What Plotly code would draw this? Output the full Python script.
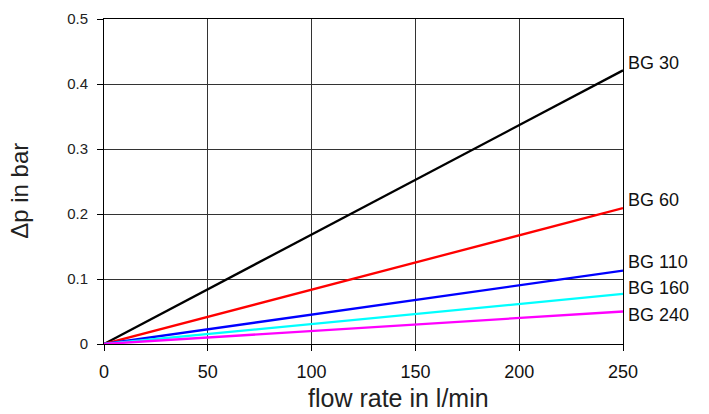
import plotly.graph_objects as go

# Pressure drop vs flow rate for the BG filter sizes
flow = [0, 250]
series_names = ["BG 30", "BG 60", "BG 110", "BG 160", "BG 240"]
dp_end = [0.421, 0.209, 0.113, 0.077, 0.050]
colors = ["#000000", "#ff0000", "#0000ff", "#00ffff", "#ff00ff"]
label_y = [0.432, 0.221, 0.126, 0.086, 0.045]

x_ticks = [0, 50, 100, 150, 200, 250]
y_ticks = [0, 0.1, 0.2, 0.3, 0.4, 0.5]
y_ticklabels = ["0", "0.1", "0.2", "0.3", "0.4", "0.5"]

FONT = "Liberation Sans"

fig = go.Figure()
for name, end, col in zip(series_names, dp_end, colors):
    fig.add_trace(go.Scatter(x=flow, y=[0, end], mode="lines", name=name,
                             line=dict(color=col, width=2.3), cliponaxis=False))

for name, ly in zip(series_names, label_y):
    fig.add_annotation(x=250, y=ly, text=name, showarrow=False, xanchor="left",
                       xshift=3, font=dict(family=FONT, size=18, color="#111"))

# axis titles
fig.add_annotation(xref="paper", yref="paper", x=0.568, y=-0.166, text="flow rate in l/min",
                   showarrow=False, xanchor="center", yanchor="middle",
                   font=dict(family=FONT, size=25, color="#222"))
fig.add_annotation(xref="paper", yref="paper", x=-0.162, y=0.471, text="Δp in bar",
                   showarrow=False, xanchor="center", yanchor="middle", textangle=-90,
                   font=dict(family=FONT, size=24, color="#222"))

fig.update_layout(
    width=709, height=414,
    margin=dict(l=104, r=86, t=19, b=70),
    paper_bgcolor="white", plot_bgcolor="white",
    showlegend=False,
    font=dict(family=FONT, color="#222"),
)
fig.update_xaxes(range=[0, 250], tickvals=x_ticks, showgrid=True, gridcolor="#333", gridwidth=1,
                 showline=True, linecolor="#000", linewidth=1, mirror=True,
                 ticks="outside", ticklen=6, tickcolor="#000",
                 tickfont=dict(family=FONT, size=18, color="#111"),
                 ticklabelstandoff=5, zeroline=False, automargin=False)
fig.update_yaxes(range=[0, 0.5], tickvals=y_ticks, ticktext=y_ticklabels, showgrid=True,
                 gridcolor="#333", gridwidth=1,
                 showline=True, linecolor="#000", linewidth=1, mirror=True,
                 ticks="outside", ticklen=6, tickcolor="#000",
                 tickfont=dict(family=FONT, size=15, color="#222"),
                 ticklabelstandoff=6, zeroline=False, automargin=False)

fig.write_html("out.html")
